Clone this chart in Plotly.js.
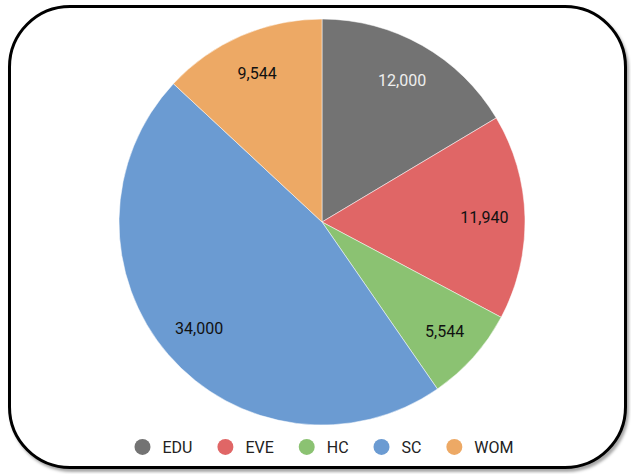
<!DOCTYPE html>
<html><head><meta charset="utf-8">
<script src="https://cdn.plot.ly/plotly-3.0.1.min.js"></script>
<style>
html,body{margin:0;padding:0;background:#fff;}
#frame{position:absolute;left:8px;top:5px;width:613px;height:458px;border:3px solid #000;border-radius:62px;box-shadow:2px 3px 3px rgba(0,0,0,0.35);background:#fff;}
#chart{position:absolute;left:0;top:0;width:631px;height:474px;}
</style></head>
<body>
<div id="frame"></div>
<div id="chart"></div>
<script>
const categories = ["EDU", "EVE", "HC", "SC", "WOM"];
const values = [12000, 11940, 5544, 34000, 9544];
const colors = ["#737373", "#e06666", "#8bc272", "#6b9bd2", "#eda965"];
const textColors = ["#eeeeee", "#111111", "#111111", "#111111", "#111111"];

const dom = {x: [(322-203)/631, (322+203)/631], y: [1-425/474, 1-19/474]};

const pie = {
  type: "pie",
  labels: categories,
  values: values,
  sort: false,
  direction: "clockwise",
  rotation: 0,
  marker: {colors: colors, line: {color: "#ffffff", width: 0.5}},
  textinfo: "none",
  hoverinfo: "label+value",
  showlegend: false,
  domain: dom
};

// transparent ring carrying the value labels further out, as in the reference
const labelRing = {
  type: "pie",
  labels: categories,
  values: values,
  sort: false,
  direction: "clockwise",
  rotation: 0,
  hole: 0.6,
  marker: {colors: categories.map(() => "rgba(0,0,0,0)"), line: {width: 0}},
  texttemplate: "%{value:,}",
  textposition: "inside",
  insidetextorientation: "horizontal",
  textfont: {family: "Roboto", size: 16, color: textColors},
  hoverinfo: "skip",
  showlegend: false,
  domain: dom
};

const legendTraces = categories.map((c, i) => ({
  type: "scatter", mode: "markers", x: [null], y: [null], name: c + "\u00a0\u00a0",
  marker: {color: colors[i], size: 18, symbol: "circle"},
  showlegend: true, hoverinfo: "skip"
}));

const layout = {
  width: 631, height: 474,
  margin: {l: 0, r: 0, t: 0, b: 0},
  paper_bgcolor: "rgba(0,0,0,0)",
  plot_bgcolor: "rgba(0,0,0,0)",
  xaxis: {visible: false},
  yaxis: {visible: false},
  showlegend: true,
  legend: {orientation: "h", x: 0.5 + 9/631, xanchor: "center", y: 1-447/474, yanchor: "middle",
    font: {family: "Roboto", size: 16, color: "#222"}, itemsizing: "trace", bgcolor: "rgba(0,0,0,0)"}
};

Plotly.newPlot("chart", [pie, labelRing, ...legendTraces], layout, {displayModeBar: false, staticPlot: true});
</script>
</body></html>
